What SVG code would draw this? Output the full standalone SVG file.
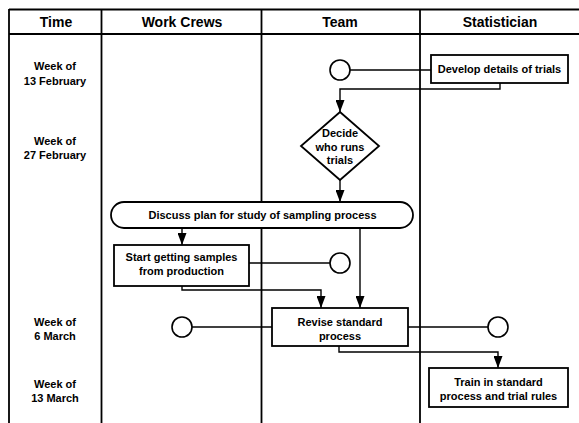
<svg xmlns="http://www.w3.org/2000/svg" width="579" height="423" viewBox="0 0 579 423">
  <style>
    text { font-family: "Liberation Sans", Arial, sans-serif; font-weight: bold; fill: #000; text-anchor: middle; }
    .hdr { font-size: 14px; }
    .lbl { font-size: 11px; }
    .grid { stroke: #000; stroke-width: 1.8; fill: none; }
    .box { stroke: #000; stroke-width: 1.8; fill: #fff; }
    .conn { stroke: #000; stroke-width: 1.4; fill: none; }
    .node-circle { stroke: #000; stroke-width: 1.6; fill: #fff; }
  </style>
  <defs>
    <marker id="arrow" markerWidth="12" markerHeight="9" refX="12" refY="4.5" orient="auto" markerUnits="userSpaceOnUse" viewBox="0 0 12 9">
      <path d="M0,0 L12,4.5 L0,9 Z" fill="#000"/>
    </marker>
  </defs>

  <rect width="579" height="423" fill="#fff"/>

  <!-- swimlane grid -->
  <g id="lanes">
    <line class="grid" x1="9" y1="9.5" x2="579" y2="9.5"/>
    <line class="grid" x1="9" y1="34" x2="579" y2="34"/>
    <line class="grid" x1="9" y1="9" x2="9" y2="423"/>
    <line class="grid" x1="101.5" y1="9" x2="101.5" y2="423"/>
    <line class="grid" x1="261.5" y1="9" x2="261.5" y2="423"/>
    <line class="grid" x1="420" y1="9" x2="420" y2="423"/>
    <text class="hdr" x="56" y="27">Time</text>
    <text class="hdr" x="182" y="27">Work Crews</text>
    <text class="hdr" x="340" y="27">Team</text>
    <text class="hdr" x="500" y="27">Statistician</text>
  </g>

  <!-- time labels -->
  <g id="weeks">
    <text class="lbl" x="55" y="70">Week of</text>
    <text class="lbl" x="55" y="85">13 February</text>
    <text class="lbl" x="55" y="145">Week of</text>
    <text class="lbl" x="55" y="159">27 February</text>
    <text class="lbl" x="55" y="326">Week of</text>
    <text class="lbl" x="55" y="340">6 March</text>
    <text class="lbl" x="55" y="388">Week of</text>
    <text class="lbl" x="55" y="402">13 March</text>
  </g>

  <!-- connectors -->
  <g id="connectors">
    <line class="conn" x1="350" y1="70" x2="431" y2="70"/>
    <polyline class="conn" points="500,83 500,89 340,89 340,112" marker-end="url(#arrow)"/>
    <line class="conn" x1="340" y1="180" x2="340" y2="202" marker-end="url(#arrow)"/>
    <line class="conn" x1="182" y1="228" x2="182" y2="245" marker-end="url(#arrow)"/>
    <line class="conn" x1="249" y1="263" x2="330" y2="263"/>
    <polyline class="conn" points="182,286 182,290 321,290 321,308" marker-end="url(#arrow)"/>
    <line class="conn" x1="360" y1="228" x2="360" y2="308" marker-end="url(#arrow)"/>
    <line class="conn" x1="192" y1="327" x2="272" y2="327"/>
    <line class="conn" x1="408" y1="327" x2="488" y2="327"/>
    <polyline class="conn" points="339,346 339,352 498,352 498,368" marker-end="url(#arrow)"/>
  </g>

  <g id="team-start">
    <circle class="node-circle" cx="340" cy="70" r="10"/>
  </g>

  <g id="develop-details">
    <rect class="box" x="431" y="55" width="137" height="28"/>
    <text class="lbl" x="499.5" y="73">Develop details of trials</text>
  </g>

  <g id="decide-who">
    <polygon class="box" points="340,112 379,146 340,180 301,146"/>
    <text class="lbl" x="340" y="137">Decide</text>
    <text class="lbl" x="340" y="151">who runs</text>
    <text class="lbl" x="340" y="164">trials</text>
  </g>

  <g id="discuss-plan">
    <rect class="box" x="111" y="202" width="302" height="26" rx="13" ry="13"/>
    <text class="lbl" x="262.5" y="219">Discuss plan for study of sampling process</text>
  </g>

  <g id="start-samples">
    <rect class="box" x="114" y="245" width="135" height="41"/>
    <text class="lbl" x="181.5" y="261">Start getting samples</text>
    <text class="lbl" x="181.5" y="275">from production</text>
  </g>

  <g id="team-wait">
    <circle class="node-circle" cx="340" cy="263" r="10"/>
  </g>

  <g id="crews-wait">
    <circle class="node-circle" cx="182" cy="327" r="10"/>
  </g>

  <g id="revise-standard">
    <rect class="box" x="272" y="308" width="136" height="38"/>
    <text class="lbl" x="340" y="326">Revise standard</text>
    <text class="lbl" x="340" y="340">process</text>
  </g>

  <g id="statistician-wait">
    <circle class="node-circle" cx="498" cy="327" r="10"/>
  </g>

  <g id="train">
    <rect class="box" x="429" y="368" width="139" height="39"/>
    <text class="lbl" x="498.5" y="386">Train in standard</text>
    <text class="lbl" x="498.5" y="400">process and trial rules</text>
  </g>
</svg>
